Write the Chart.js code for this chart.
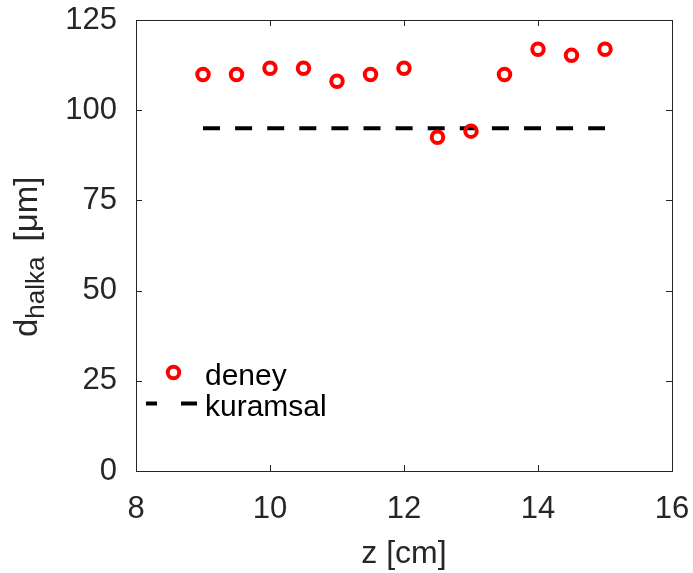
<!DOCTYPE html>
<html>
<head>
<meta charset="utf-8">
<script src="https://cdn.jsdelivr.net/npm/chart.js@4"></script>
<style>
  html, body { margin: 0; padding: 0; background: #fff; }
  #wrap { width: 693px; height: 573px; }
</style>
</head>
<body>
<div id="wrap"><canvas id="c" width="693" height="573"></canvas></div>
<script>
const zValues = [9, 9.5, 10, 10.5, 11, 11.5, 12, 12.5, 13, 13.5, 14, 14.5, 15];
const deneyValues = [109.9, 109.9, 111.6, 111.6, 108.0, 109.9, 111.6, 92.5, 94.2, 109.9, 116.9, 115.2, 116.9];
const kuramsalZ = [9, 15];
const kuramsalValues = [95, 95];
const xTicks = [8, 10, 12, 14, 16];
const yTicks = [0, 25, 50, 75, 100, 125];

const FONT = '"Liberation Sans", Arial, Helvetica, sans-serif';
const INK = '#262626';

// box round the plot + inward tick marks on all four sides
const boxPlugin = {
  id: 'box',
  afterDraw(chart) {
    const { ctx, chartArea: a, scales } = chart;
    ctx.save();
    ctx.strokeStyle = INK;
    ctx.lineWidth = 1;
    ctx.strokeRect(a.left + 0.5, a.top + 0.5, a.right - a.left, a.bottom - a.top);
    const len = 6;
    ctx.beginPath();
    xTicks.forEach((v) => {
      const x = Math.round(scales.x.getPixelForValue(v)) + 0.5;
      ctx.moveTo(x, a.bottom); ctx.lineTo(x, a.bottom - len);
      ctx.moveTo(x, a.top); ctx.lineTo(x, a.top + len);
    });
    yTicks.forEach((v) => {
      const y = Math.round(scales.y.getPixelForValue(v)) + 0.5;
      ctx.moveTo(a.left, y); ctx.lineTo(a.left + len, y);
      ctx.moveTo(a.right, y); ctx.lineTo(a.right - len, y);
    });
    ctx.stroke();
    ctx.restore();
  }
};

// y title with a subscript: d_halka [μm]
const yTitlePlugin = {
  id: 'yTitle',
  afterDraw(chart) {
    const ctx = chart.ctx;
    const big = '33px ' + FONT, small = '26px ' + FONT;
    ctx.save();
    ctx.fillStyle = INK;
    ctx.translate(37, 337);
    ctx.rotate(-Math.PI / 2);
    ctx.textBaseline = 'alphabetic';
    ctx.textAlign = 'left';
    let x = 0;
    ctx.font = big; ctx.fillText('d', x, 0); x += ctx.measureText('d').width;
    ctx.font = small; ctx.fillText('halka', x, 7); x += ctx.measureText('halka').width + 15;
    ctx.font = big; ctx.fillText('[μm]', x, 0);
    ctx.restore();
  }
};

// legend inside the axes, lower left
const legendPlugin = {
  id: 'inLegend',
  afterDraw(chart) {
    const ctx = chart.ctx;
    const ds = chart.data.datasets;
    ctx.save();
    ctx.strokeStyle = ds[0].borderColor;
    ctx.lineWidth = ds[0].pointBorderWidth;
    ctx.beginPath();
    ctx.arc(173.5, 372.5, ds[0].pointRadius, 0, Math.PI * 2);
    ctx.stroke();
    ctx.strokeStyle = ds[1].borderColor;
    ctx.lineWidth = ds[1].borderWidth;
    ctx.beginPath();
    ctx.moveTo(146, 403.5); ctx.lineTo(157, 403.5);
    ctx.moveTo(181, 403.5); ctx.lineTo(197, 403.5);
    ctx.stroke();
    ctx.fillStyle = '#000';
    ctx.font = '30px ' + FONT;
    ctx.textBaseline = 'alphabetic';
    ctx.fillText(ds[0].label, 205, 385);
    ctx.fillText(ds[1].label, 205, 416);
    ctx.restore();
  }
};

new Chart(document.getElementById('c'), {
  type: 'scatter',
  data: {
    datasets: [
      {
        label: 'deney',
        data: zValues.map((z, i) => ({ x: z, y: deneyValues[i] })),
        showLine: false,
        pointStyle: 'circle',
        pointRadius: 5.75,
        pointBorderWidth: 4,
        borderColor: '#ff0000',
        backgroundColor: 'rgba(0,0,0,0)',
        pointBackgroundColor: 'rgba(0,0,0,0)'
      },
      {
        label: 'kuramsal',
        data: kuramsalZ.map((z, i) => ({ x: z, y: kuramsalValues[i] })),
        showLine: true,
        pointRadius: 0,
        borderColor: '#000',
        borderWidth: 4,
        borderDash: [17, 15.1],
        borderCapStyle: 'butt'
      }
    ]
  },
  options: {
    responsive: false,
    animation: false,
    layout: { padding: { top: 20, right: 21, left: 0, bottom: 0 } },
    plugins: { legend: { display: false }, tooltip: { enabled: false } },
    scales: {
      x: {
        type: 'linear', min: 8, max: 16,
        afterFit(s) { s.height = 102; s.paddingLeft = 0; s.paddingRight = 0; },
        afterBuildTicks(s) { s.ticks = xTicks.map((v) => ({ value: v })); },
        grid: { display: false },
        border: { display: false },
        ticks: { color: INK, font: { family: FONT, size: 31 }, padding: 12, maxRotation: 0 },
        title: { display: true, text: 'z [cm]', color: INK, font: { family: FONT, size: 32 }, padding: { top: 0, bottom: 0 } }
      },
      y: {
        type: 'linear', min: 0, max: 125,
        afterFit(s) { s.width = 136; s.paddingTop = 0; s.paddingBottom = 0; },
        afterBuildTicks(s) { s.ticks = yTicks.map((v) => ({ value: v })); },
        grid: { display: false },
        border: { display: false },
        ticks: { color: INK, font: { family: FONT, size: 31 }, padding: 11 }
      }
    }
  },
  plugins: [boxPlugin, yTitlePlugin, legendPlugin]
});
</script>
</body>
</html>
